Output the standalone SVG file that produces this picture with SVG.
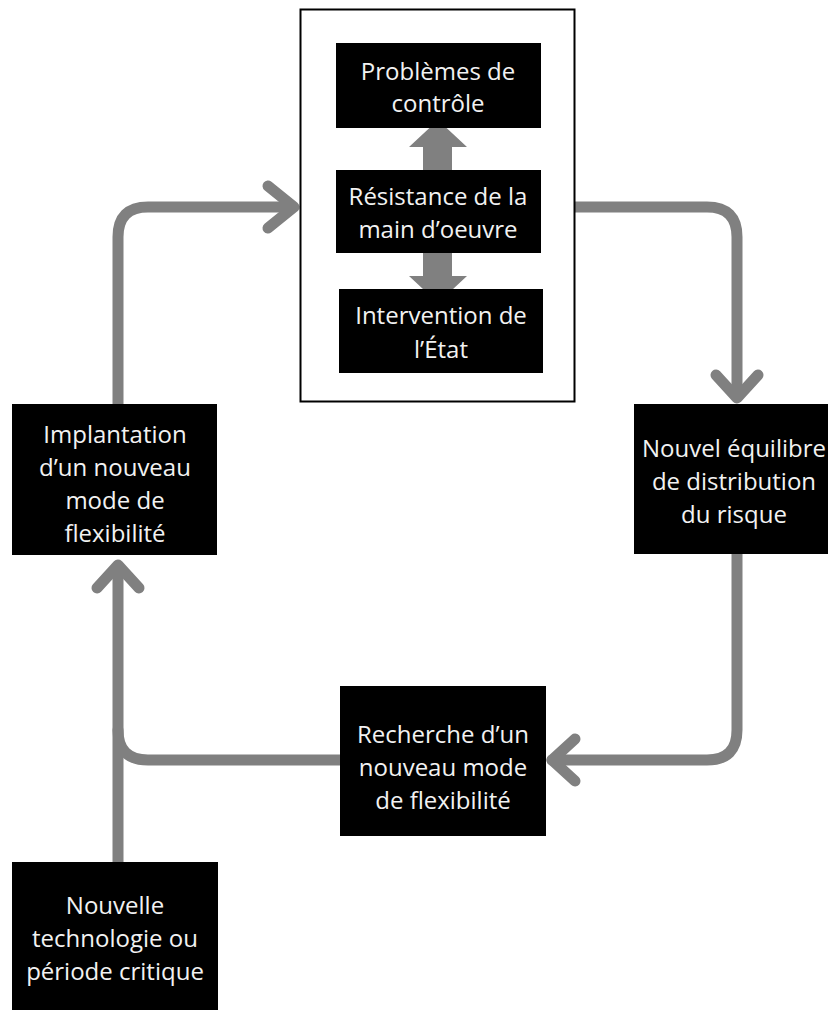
<svg xmlns="http://www.w3.org/2000/svg" width="832" height="1010" viewBox="0 0 832 1010">
<style>
.box{fill:#000}
.t{font-family:"Open Sans","Liberation Sans",sans-serif;font-size:24px;fill:#f2f2f2;text-anchor:middle}
.c{fill:none;stroke:#808080;stroke-width:11;stroke-linecap:round;stroke-linejoin:round}
.blk{fill:#808080}
</style>
<rect width="832" height="1010" fill="#fff"/>
<g id="connectors">
<path class="c" d="M118,404 V237 Q118,207 148,207 H292"/>
<path class="c" d="M268,186 L294,207 L268,228"/>
<path class="c" d="M575,207 H707 Q737,207 737,237 V396"/>
<path class="c" d="M716,375 L737,398 L758,375"/>
<path class="c" d="M737,554 V730 Q737,760 707,760 H552"/>
<path class="c" d="M575,739 L552,760 L575,781"/>
<path class="c" d="M340,760 H148 Q118,760 118,730 V566"/>
<path class="c" d="M97,588 L118,565 L139,588"/>
<path class="c" d="M118,862 V730"/>
</g>
<g id="group-box">
<rect x="300.5" y="9.5" width="274" height="392" fill="#fff" stroke="#000" stroke-width="2"/>
</g>
<g id="inner-arrows">
<polygon class="blk" points="423,172 423,147 409,147 438,120 467,147 452,147 452,172"/>
<polygon class="blk" points="423,252 423,276 409,276 438,303 467,276 452,276 452,252"/>
</g>
<g id="n-problemes">
<rect class="box" x="336" y="43" width="205" height="85"/>
<text class="t" x="438" y="80">Problèmes de</text>
<text class="t" x="438" y="112">contrôle</text>
</g>
<g id="n-resistance">
<rect class="box" x="336" y="170" width="205" height="83"/>
<text class="t" x="438" y="205">Résistance de la</text>
<text class="t" x="438" y="238">main d’oeuvre</text>
</g>
<g id="n-intervention">
<rect class="box" x="339" y="289" width="204" height="84"/>
<text class="t" x="441" y="324">Intervention de</text>
<text class="t" x="441" y="358">l’État</text>
</g>
<g id="n-implantation">
<rect class="box" x="12" y="404" width="205" height="151"/>
<text class="t" x="115" y="443">Implantation</text>
<text class="t" x="115" y="476">d’un nouveau</text>
<text class="t" x="115" y="509">mode de</text>
<text class="t" x="115" y="542">flexibilité</text>
</g>
<g id="n-equilibre">
<rect class="box" x="634" y="404" width="194" height="150"/>
<text class="t" x="734" y="457">Nouvel équilibre</text>
<text class="t" x="734" y="490">de distribution</text>
<text class="t" x="734" y="523">du risque</text>
</g>
<g id="n-recherche">
<rect class="box" x="340" y="686" width="206" height="150"/>
<text class="t" x="443" y="743">Recherche d’un</text>
<text class="t" x="443" y="776">nouveau mode</text>
<text class="t" x="443" y="809">de flexibilité</text>
</g>
<g id="n-nouvelle">
<rect class="box" x="12" y="862" width="206" height="148"/>
<text class="t" x="115" y="914">Nouvelle</text>
<text class="t" x="115" y="947">technologie ou</text>
<text class="t" x="115" y="980">période critique</text>
</g>
</svg>
